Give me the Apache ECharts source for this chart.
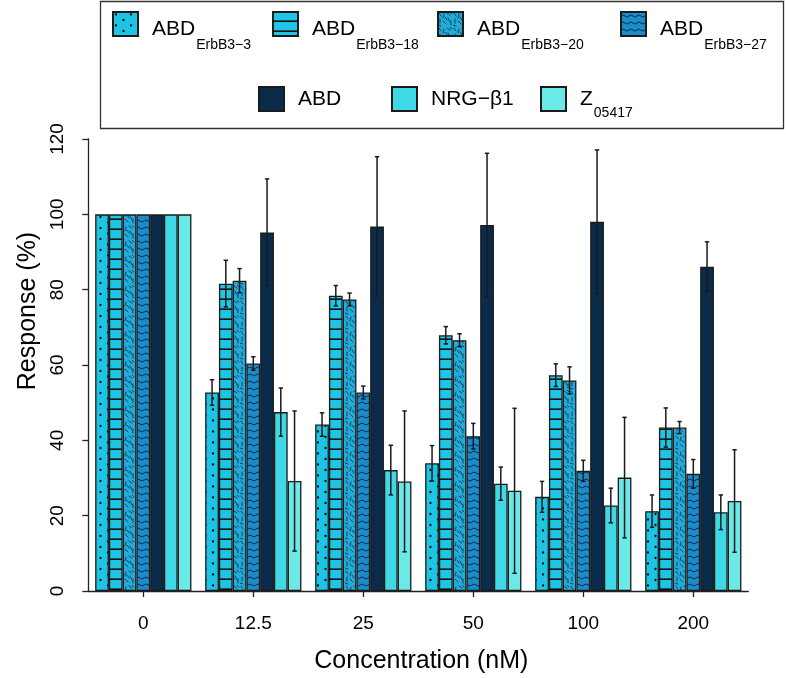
<!DOCTYPE html>
<html>
<head>
<meta charset="utf-8">
<script src="https://cdn.jsdelivr.net/npm/echarts@6/dist/echarts.min.js"></script>
<style>
html,body{margin:0;padding:0;background:#fff;}
#chart{width:786px;height:678px;}
</style>
</head>
<body>
<div id="chart"></div>
<script>
// ---------------- data ----------------
const categories = ['0', '12.5', '25', '50', '100', '200'];
const seriesNames = ['ABD_ErbB3-3', 'ABD_ErbB3-18', 'ABD_ErbB3-20', 'ABD_ErbB3-27', 'ABD', 'NRG-β1', 'Z_05417'];

const abd3Mean  = [100, 52.7, 44.2, 33.9, 25.0, 21.2];
const abd3Sd    = [0,   3.4,  3.1,  4.7,  4.1,  4.3];
const abd18Mean = [100, 81.6, 78.4, 67.9, 57.3, 43.4];
const abd18Sd   = [0,   6.2,  2.7,  2.3,  3.0,  5.2];
const abd20Mean = [100, 82.4, 77.4, 66.6, 55.9, 43.4];
const abd20Sd   = [0,   3.2,  1.7,  1.7,  3.6,  1.6];
const abd27Mean = [100, 60.4, 52.7, 41.1, 31.9, 31.1];
const abd27Sd   = [0,   1.8,  1.7,  3.4,  2.8,  3.8];
const abdMean   = [100, 95.2, 96.8, 97.2, 98.0, 86.1];
const abdSd     = [0,   14.2, 18.5, 19.0, 19.1, 6.6];
const nrgMean   = [100, 47.5, 32.1, 28.5, 22.7, 20.9];
const nrgSd     = [0,   6.4,  6.6,  4.4,  4.6,  4.6];
const zMean     = [100, 29.2, 29.1, 26.6, 30.1, 23.9];
const zSd       = [0,   18.6, 18.7, 21.9, 16.0, 13.6];

const yTicks = [0, 20, 40, 60, 80, 100, 120];

const means = [abd3Mean, abd18Mean, abd20Mean, abd27Mean, abdMean, nrgMean, zMean];
const sds   = [abd3Sd, abd18Sd, abd20Sd, abd27Sd, abdSd, nrgSd, zSd];

// ---------------- patterns ----------------
function tile(w, h, bg, draw) {
  const c = document.createElement('canvas');
  c.width = w; c.height = h;
  const g = c.getContext('2d');
  g.fillStyle = bg; g.fillRect(0, 0, w, h);
  draw(g);
  return c;
}
const dotTile = tile(15, 11, '#1ec4e4', g => {
  g.fillStyle = '#0a0a0a';
  [[3, 2.5], [10.5, 8]].forEach(p => { g.beginPath(); g.arc(p[0], p[1], 1.15, 0, Math.PI * 2); g.fill(); });
});
const lineTile = tile(10, 10, '#1ec6e6', g => {
  g.fillStyle = '#111';
  g.fillRect(0, 8.4, 10, 1.6);
});
const dashSegs = [[1,1,3,4],[6,2,5,6],[9,1,12,3],[2,7,2,11],[5,9,8,12],[10,6,12,10],[13,9,13,13],[0,13,3,14],[7,5,9,8],[12,0,14,2]];
const dashTile = tile(15, 15, '#22acd9', g => {
  g.strokeStyle = '#0b3550'; g.lineWidth = 0.9; g.lineCap = 'round';
  dashSegs.forEach(s => { g.beginPath(); g.moveTo(s[0], s[1]); g.lineTo(s[2], s[3]); g.stroke(); });
});
const waveTile = tile(8, 7, '#1a8ccc', g => {
  g.strokeStyle = '#0b2a45'; g.lineWidth = 1;
  g.beginPath(); g.moveTo(0, 4);
  g.quadraticCurveTo(2, 2, 4, 4);
  g.quadraticCurveTo(6, 6, 8, 4);
  g.stroke();
});

const fills = [
  { image: dotTile, repeat: 'repeat' },
  { image: lineTile, repeat: 'repeat' },
  { image: dashTile, repeat: 'repeat' },
  { image: waveTile, repeat: 'repeat' },
  '#0a2b49',
  '#3fd8e6',
  '#6ae9e7'
];

const FONT = 'Liberation Sans, Arial, Helvetica, sans-serif';
const nS = seriesNames.length;
const catGap = 1 / 8; // one empty bar slot per group

const barSeries = seriesNames.map((name, i) => ({
  name: name,
  type: 'bar',
  data: means[i],
  barGap: '0%',
  barCategoryGap: (catGap * 100) + '%',
  itemStyle: { color: fills[i], borderColor: '#1a1a1a', borderWidth: 1.3 },
  emphasis: { disabled: true },
  z: 2
}));

const errData = [];
for (let s = 0; s < nS; s++) {
  for (let c = 0; c < categories.length; c++) {
    errData.push([c, s, means[s][c], sds[s][c]]);
  }
}

const errSeries = {
  type: 'custom',
  name: 'err',
  data: errData,
  encode: { x: 0, y: 2 },
  z: 5,
  silent: true,
  renderItem: function (params, api) {
    const cat = api.value(0), si = api.value(1), m = api.value(2), sd = api.value(3);
    if (!sd) return null;
    const catW = api.size([1, 0])[0];
    const bw = catW * (1 - catGap) / nS;
    const cx = api.coord([cat, m])[0] + (si - (nS - 1) / 2) * bw;
    const yt = api.coord([cat, m + sd])[1];
    const yb = api.coord([cat, m - sd])[1];
    const st = { stroke: '#1a1a1a', lineWidth: 1.5 };
    const cap = 2.2;
    return {
      type: 'group',
      children: [
        { type: 'line', shape: { x1: cx, y1: yt, x2: cx, y2: yb }, style: st },
        { type: 'line', shape: { x1: cx - cap, y1: yt, x2: cx + cap, y2: yt }, style: st },
        { type: 'line', shape: { x1: cx - cap, y1: yb, x2: cx + cap, y2: yb }, style: st }
      ]
    };
  }
};

function legendLabel(name) {
  const parts = name.split('_');
  if (parts.length === 2) {
    return '{m|' + parts[0] + '}{s|' + parts[1].replace('-', '\u2212') + '}';
  }
  return '{m|' + name.replace('-', '\u2212') + '}';
}

const richRow1 = {
  m: { fontFamily: FONT, fontSize: 21, color: '#000', padding: [11, 0, 0, 9] },
  s: { fontFamily: FONT, fontSize: 14, color: '#000', padding: [42, 0, 0, 1] }
};
const richRow2 = {
  m: { fontFamily: FONT, fontSize: 21, color: '#000', padding: [0, 0, 0, 9] },
  s: { fontFamily: FONT, fontSize: 14, color: '#000', padding: [28, 0, 0, 1] }
};

// legend item anchor positions (layout only)
const legendPos = [[112, 11], [272, 11], [437, 11], [620, 11], [258, 86], [391, 86], [540, 86]];
const legends = seriesNames.map((n, i) => ({
  data: [n],
  left: legendPos[i][0],
  top: legendPos[i][1],
  padding: 0,
  itemWidth: 25,
  itemHeight: 24,
  icon: 'rect',
  selectedMode: false,
  formatter: legendLabel,
  textStyle: { rich: i < 4 ? richRow1 : richRow2, fontFamily: FONT }
}));

const chart = echarts.init(document.getElementById('chart'), null, { renderer: 'canvas' });
chart.setOption({
  animation: false,
  backgroundColor: '#fff',
  legend: legends,
  graphic: [{
    type: 'rect',
    shape: { x: 100.5, y: 1.5, width: 683, height: 127 },
    style: { fill: 'none', stroke: '#333', lineWidth: 1.3 },
    silent: true
  }],
  grid: { left: 88.3, right: 37.7, top: 139, bottom: 87, containLabel: false, outerBoundsMode: 'none' },
  xAxis: {
    type: 'category',
    data: categories,
    axisLine: { show: true, lineStyle: { color: '#222', width: 1.3 } },
    axisTick: { show: true, alignWithLabel: true, length: 6, lineStyle: { color: '#222', width: 1.3 } },
    axisLabel: { fontFamily: FONT, fontSize: 19, color: '#000', margin: 23 },
    name: 'Concentration (nM)',
    nameLocation: 'middle',
    nameGap: 58,
    nameTextStyle: { fontFamily: FONT, fontSize: 25, color: '#000', padding: [0, 0, 0, 6] }
  },
  yAxis: {
    type: 'value',
    min: 0,
    max: 120,
    interval: 20,
    splitLine: { show: false },
    axisLine: { show: true, lineStyle: { color: '#222', width: 1.3 } },
    axisTick: { show: true, length: 6, lineStyle: { color: '#222', width: 1.3 } },
    axisLabel: {
      fontFamily: FONT, fontSize: 19, color: '#000', rotate: 90, margin: 21,
      formatter: v => yTicks.indexOf(v) >= 0 ? String(v) : ''
    },
    name: 'Response (%)',
    nameLocation: 'middle',
    nameRotate: 90,
    nameGap: 44,
    nameTextStyle: { fontFamily: FONT, fontSize: 25, color: '#000', padding: [0, 0, 0, 108] }
  },
  series: barSeries.concat([errSeries])
});
</script>
</body>
</html>
